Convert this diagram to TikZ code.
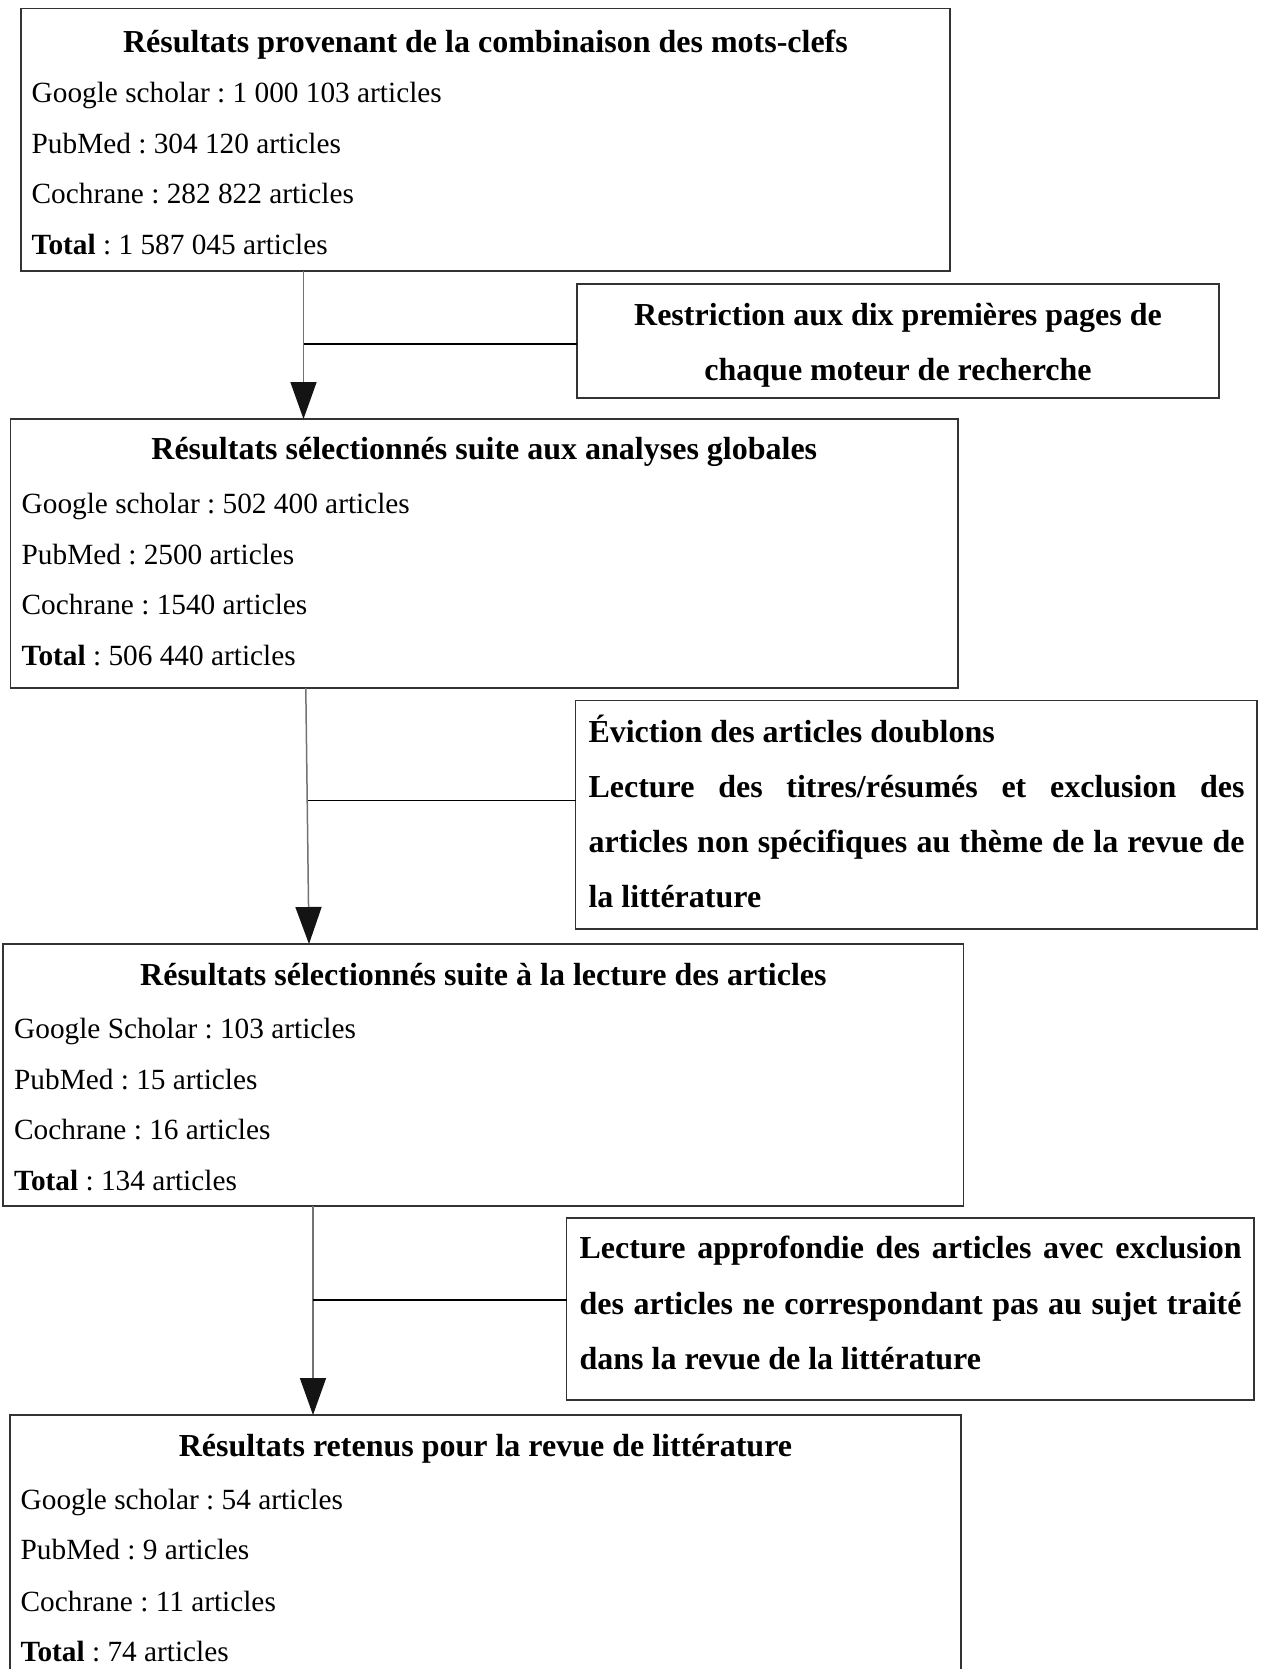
\documentclass[tikz,border=0pt]{standalone}
\usepackage{fontspec}
\setmainfont{Liberation Serif}
\usetikzlibrary{arrows.meta,calc}
\frenchspacing
\begin{document}
\begin{tikzpicture}[x=1pt,y=-1pt,
  box/.style={draw=black!80,line width=1.5pt,rectangle,inner sep=0pt,outer sep=0pt,anchor=north west},
  txt/.style={anchor=base west,inner sep=0pt,font=\fontsize{29.3}{35}\selectfont},
  btxt/.style={anchor=base west,inner sep=0pt,font=\fontsize{32}{38}\selectfont\bfseries},
  ttl/.style={anchor=base,inner sep=0pt,font=\fontsize{32}{38}\selectfont\bfseries},
  vline/.style={draw=black!55,line width=1.5pt,-{Triangle[length=37pt,width=26pt,color=black!92]}},
  hline/.style={draw=black,line width=1.3pt}
]
\useasboundingbox (0,0) rectangle (1266,1669);
\fill[white] (0,0) rectangle (1266,1669);

% Box 1
\node[box,minimum width=929pt,minimum height=262.5pt] (b1) at (21,8.5) {};
\node[ttl] (b1t) at (485.5,52.3) {Résultats provenant de la combinaison des mots-clefs};
\node[txt] (b1a) at (31.5,102.3) {Google scholar : 1 000 103 articles};
\node[txt] (b1b) at (31.5,153.2) {PubMed : 304 120 articles};
\node[txt] (b1c) at (31.5,204) {Cochrane : 282 822 articles};
\node[txt] (b1d) at (31.5,254.8) {\textbf{Total} : 1 587 045 articles};

% Side box 1
\node[box,minimum width=642pt,minimum height=114pt] (r1) at (577,284) {};
\node[ttl] (r1a) at (898,325.7) {Restriction aux dix premières pages de};
\node[ttl] (r1b) at (898,380.2) {chaque moteur de recherche};

% Box 2
\node[box,minimum width=947.4pt,minimum height=269pt] (b2) at (10.6,419) {};
\node[ttl] (b2t) at (484.3,459.7) {Résultats sélectionnés suite aux analyses globales};
\node[txt] (b2a) at (21.5,513.3) {Google scholar : 502 400 articles};
\node[txt] (b2b) at (21.5,564.5) {PubMed : 2500 articles};
\node[txt] (b2c) at (21.5,614.5) {Cochrane : 1540 articles};
\node[txt] (b2d) at (21.5,665.7) {\textbf{Total} : 506 440 articles};

% Side box 2
\node[box,minimum width=681.5pt,minimum height=228.3pt] (r2) at (575.5,700.7) {};
\node[btxt] (r2a) at (588.3,742.3) {Éviction des articles doublons};
\node[btxt] (r2b) at (588.3,797.7) {\makebox[656pt][s]{Lecture des titres/résumés et exclusion des}};
\node[btxt] (r2c) at (588.3,852) {\makebox[656pt][s]{articles non spécifiques au thème de la revue de}};
\node[btxt] (r2d) at (588.3,907.3) {la littérature};

% Box 3
\node[box,minimum width=960.4pt,minimum height=262pt] (b3) at (3.2,944) {};
\node[ttl] (b3t) at (483.4,985) {Résultats sélectionnés suite à la lecture des articles};
\node[txt] (b3a) at (14,1038.3) {Google Scholar : 103 articles};
\node[txt] (b3b) at (14,1089.4) {PubMed : 15 articles};
\node[txt] (b3c) at (14,1139.5) {Cochrane : 16 articles};
\node[txt] (b3d) at (14,1190.6) {\textbf{Total} : 134 articles};

% Side box 3
\node[box,minimum width=687.4pt,minimum height=182pt] (r3) at (566.6,1218) {};
\node[btxt] (r3a) at (579.4,1258.7) {\makebox[662pt][s]{Lecture approfondie des articles avec exclusion}};
\node[btxt] (r3b) at (579.4,1314) {\makebox[662pt][s]{des articles ne correspondant pas au sujet traité}};
\node[btxt] (r3c) at (579.4,1369.5) {dans la revue de la littérature};

% Box 4
\node[box,minimum width=951pt,minimum height=275pt] (b4) at (10,1415) {};
\node[ttl] (b4t) at (485.5,1456.7) {Résultats retenus pour la revue de littérature};
\node[txt] (b4a) at (20.5,1509.7) {Google scholar : 54 articles};
\node[txt] (b4b) at (20.5,1559.7) {PubMed : 9 articles};
\node[txt] (b4c) at (20.5,1611) {Cochrane : 11 articles};
\node[txt] (b4d) at (20.5,1661.2) {\textbf{Total} : 74 articles};

% Connectors
\draw[vline] ($(b1.south west)+(282.5,0)$) coordinate (s1) -- ($(b2.north west)+(292.9,0)$) coordinate (e1);
\coordinate (j1) at (303.5,344);
\draw[hline] (j1) -- (j1 -| r1.west);

\draw[vline] ($(b2.south west)+(295.2,0)$) coordinate (s2) -- ($(b3.north west)+(305.8,0)$) coordinate (e2);
\coordinate (j2) at (307.6,800.7);
\draw[hline] (j2) -- (j2 -| r2.west);

\draw[vline] ($(b3.south west)+(309.8,0)$) coordinate (s3) -- ($(b4.north west)+(303,0)$) coordinate (e3);
\coordinate (j3) at (313,1300);
\draw[hline] (j3) -- (j3 -| r3.west);
\end{tikzpicture}
\end{document}
